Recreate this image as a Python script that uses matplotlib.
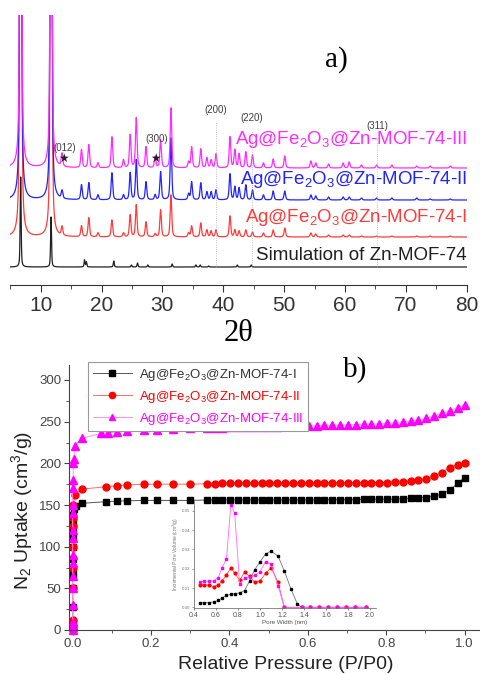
import numpy as np
import matplotlib
matplotlib.use('Agg')
import matplotlib.pyplot as plt
from matplotlib.ticker import MultipleLocator

plt.rcParams['font.family'] = ['Liberation Sans', 'DejaVu Sans']
plt.rcParams['mathtext.fontset'] = 'custom'
plt.rcParams['mathtext.rm'] = 'Liberation Sans'
plt.rcParams['mathtext.default'] = 'regular'

# ---- a) XRD peaks (2theta, height above own baseline) ----
xrd_pos = [6.7, 11.7, 13.5, 16.7, 17.9, 19.4, 21.7, 23.6, 24.7, 25.7, 27.3, 28.8,
           29.7, 31.4, 34.3, 34.8, 36.3, 37.3, 38.0, 38.8, 41.1, 41.9, 42.6, 43.7,
           44.8, 46.6, 48.2, 50.1, 54.4, 55.2, 57.3, 59.7, 60.7, 62.7, 65.2, 67.7,
           71.8, 74.0, 77.3]
xrd_III = [700, 600, 13, 18, 23, 5, 31, 8, 33, 50, 21, 11, 28, 60, 6, 21, 19, 10, 8,
           14, 31, 18, 14, 16, 13, 5, 9, 12, 7, 5, 4, 5, 6, 3, 3, 3, 2, 2, 2]
xrd_II = [700, 600, 8, 15, 17, 5, 27, 5, 27, 40, 18, 5, 28, 62, 6, 18, 17, 8, 8, 10,
          26, 13, 12, 15, 10, 5, 9, 9, 5, 4, 3, 3, 3, 2, 2, 2, 2, 1, 1]
xrd_I = [700, 600, 9, 11, 19, 4, 17, 4, 22, 32, 15, 3, 27, 42, 4, 11, 14, 7, 6, 7,
         21, 7, 6, 7, 5, 4, 7, 9, 4, 3, 2, 2, 2, 1, 1, 1, 1, 1, 1]
sim_pos = [6.7, 11.7, 17.2, 17.5, 22.0, 24.9, 25.9, 27.6, 31.6, 35.5, 36.2, 37.6,
           42.3, 44.6]
sim_h = [90, 50, 7, 5, 6, 2, 4, 2, 3, 2, 2, 1, 2, 2]
offsets = {'sim': 18, 'I': 48, 'II': 85, 'III': 117}
hkl_labels = ['(012)', '(300)', '(200)', '(220)', '(311)']
hkl_pos = [14.0, 29.0, 38.8, 44.7, 65.3]
hkl_y = [137, 146, 175, 167, 159]
star_pos = [13.7, 28.9]
ag_lines = [38.8, 44.7, 65.3]
ag_tops = [163, 155, 148]

# ---- b) N2 isotherms ----
p_hi = [0.342, 0.362, 0.382, 0.402, 0.422, 0.442, 0.462, 0.482, 0.502, 0.522, 0.542,
        0.562, 0.582, 0.602, 0.622, 0.642, 0.662, 0.682, 0.702, 0.722, 0.742, 0.762,
        0.782, 0.802, 0.822, 0.842, 0.862, 0.882, 0.902, 0.922, 0.942, 0.962, 0.982, 1.0]
p_black = [0, 0, 0, 0, 0, 0, 0, 0, 0, 0, 0.001, 0.002, 0.004, 0.008,
           0.023, 0.085, 0.112, 0.138, 0.182, 0.214, 0.255, 0.299] + p_hi
v_black = [0, 3, 8, 28, 50, 67, 85, 100, 112, 122, 130, 138, 145, 149,
           152, 154, 154.5, 155, 155.5, 155.5, 155.5, 155.5,
           156, 156, 156, 156, 156, 156, 156, 156, 156, 156, 156, 156, 156, 156, 156,
           156.5, 156.5, 156.5, 156.5, 156.5, 157, 157, 157, 157, 157, 157.5, 158, 158,
           159, 161, 163, 168, 176, 183]
p_red = [0, 0, 0, 0, 0, 0, 0, 0.001, 0.002, 0.005,
         0.023, 0.085, 0.112, 0.138, 0.182, 0.214, 0.255, 0.299] + p_hi
v_red = [0, 5, 12, 50, 75, 100, 125, 135, 150, 162,
         169, 172, 173, 174, 175, 175, 175, 175,
         175.5, 175.5, 176, 176, 176, 176, 176, 176, 176, 176, 176, 176, 176, 176, 176,
         176.5, 176.5, 176.5, 176.5, 176.5, 177, 177, 177, 177, 177.5, 178, 178.5, 179.5,
         181, 185, 189, 195, 198.5, 200.5]
p_mag = [0, 0, 0, 0, 0, 0, 0, 0, 0, 0, 0, 0, 0, 0.001, 0.002, 0.003, 0.005,
         0.023, 0.073, 0.09, 0.113, 0.138, 0.182, 0.214, 0.255, 0.299] + p_hi
v_mag = [0, 5, 10, 30, 50, 65, 80, 90, 110, 120, 140, 150, 170, 180, 200, 205, 221,
         230, 236, 236.7, 237.5, 238.5, 240, 240.5, 241, 242,
         243, 243, 243, 243.5, 243.5, 243.5, 243.5, 244, 244, 244, 244.5, 244.5, 245,
         245, 245, 245.5, 245.5, 246, 246, 246.5, 247, 247, 247.5, 248, 248.5, 249.5,
         250.5, 252, 254, 257, 260, 263, 267, 270]

# ---- inset: pore size distribution ----
w_lo = [0.45, 0.495, 0.54, 0.58, 0.62, 0.655, 0.695, 0.735, 0.77, 0.815, 0.86,
        0.905, 0.95, 1.0, 1.05, 1.1, 1.165, 1.22]
w_zero = [1.38, 1.45, 1.54, 1.62, 1.70, 1.78, 1.86, 1.96]
psd_black = [0.0024, 0.0024, 0.0025, 0.0028, 0.0036, 0.0048, 0.0062, 0.0067, 0.007,
             0.0075, 0.0087, 0.0136, 0.0193, 0.0236, 0.0275, 0.0292, 0.0264, 0.019]
w_black_tail = [1.28, 1.34]
psd_black_tail = [0.0097, 0.0017]
psd_red = [0.0116, 0.0116, 0.0115, 0.0107, 0.0116, 0.0136, 0.0167, 0.0205, 0.0176,
           0.0141, 0.0181, 0.016, 0.013, 0.0136, 0.0176, 0.0205, 0.013, 0.0]
psd_mag = [0.0133, 0.0134, 0.0135, 0.0137, 0.0153, 0.0205, 0.025, 0.053, 0.0487,
           0.0119, 0.0153, 0.0157, 0.0165, 0.0184, 0.0236, 0.0223, 0.0112, 0.0]

names = ['Ag@Fe$_2$O$_3$@Zn-MOF-74-I', 'Ag@Fe$_2$O$_3$@Zn-MOF-74-II',
         'Ag@Fe$_2$O$_3$@Zn-MOF-74-III']


def pattern(x, pos, heights, fwhm):
    y = np.zeros_like(x)
    hw = fwhm / 2
    for p, h in zip(pos, heights):
        lor = hw ** 2 / ((x - p) ** 2 + hw ** 2)
        gau = np.exp(-np.log(2) * ((x - p) / hw) ** 2)
        y += h * (0.5 * lor + 0.5 * gau)
    return y


W, H = 481, 674
fig = plt.figure(figsize=(W / 100, H / 100), dpi=100)

# ---------------- panel a ----------------
ax1 = fig.add_axes([10.3 / W, 1 - 285 / H, 456.4 / W, 270 / H])
x = np.linspace(5, 80, 6000)
ax1.plot(x, offsets['sim'] + pattern(x, sim_pos, sim_h, 0.18), color='#202020', lw=0.9)
ax1.plot(x, offsets['I'] + pattern(x, xrd_pos, xrd_I, 0.3), color='#ff3b3b', lw=0.9)
ax1.plot(x, offsets['II'] + pattern(x, xrd_pos, xrd_II, 0.3), color='#2323ff', lw=0.9)
ax1.plot(x, offsets['III'] + pattern(x, xrd_pos, xrd_III, 0.3), color='#ff2cff', lw=0.9)

for xl, yt in zip(ag_lines, ag_tops):
    ax1.plot([xl, xl], [offsets['sim'], yt], color='#b0b0b0', lw=0.6, ls=':')
for lab, xp, yp in zip(hkl_labels, hkl_pos, hkl_y):
    ax1.text(xp, yp, lab, fontsize=7, color='#404040', ha='center', va='center')
for sp in star_pos:
    ax1.text(sp, 127, '\u2605', fontsize=8.5, color='#222222', ha='center',
             va='center', family='DejaVu Sans')

ax1.text(80, 145, names[2], color='#ff2cff', fontsize=13.5, ha='right', va='center')
ax1.text(80, 106, names[1], color='#2323ff', fontsize=13.5, ha='right', va='center')
ax1.text(80, 67, names[0], color='#ff3b3b', fontsize=13.5, ha='right', va='center')
ax1.text(80, 29, 'Simulation of Zn-MOF-74', color='#202020', fontsize=13.5,
         ha='right', va='center')
ax1.text(58.6, 225, 'a)', fontsize=21, family='Liberation Serif', ha='center',
         va='center')

ax1.set_xlim(5, 80)
ax1.set_ylim(0, 270)
for s in ['left', 'right', 'top']:
    ax1.spines[s].set_visible(False)
ax1.spines['bottom'].set_color('#333333')
ax1.set_yticks([])
ax1.xaxis.set_major_locator(MultipleLocator(10))
ax1.xaxis.set_minor_locator(MultipleLocator(5))
ax1.tick_params(axis='x', which='major', direction='out', length=5, labelsize=15,
                colors='#333333', pad=3)
ax1.tick_params(axis='x', which='minor', direction='out', length=3, colors='#333333')
ax1.set_xlabel('2\u03b8', fontsize=22, family='Liberation Serif', labelpad=3)

# ---------------- panel b ----------------
ax2 = fig.add_axes([69 / W, 1 - 630 / H, 412 / W, 265 / H])
ax2.plot(p_black, v_black, color='#555555', lw=0.7, marker='s', ms=4.3,
         mfc='black', mec='black', clip_on=False, label=names[0])
ax2.plot(p_red, v_red, color='#ff6a6a', lw=0.7, marker='o', ms=5,
         mfc='#ff0000', mec='#ff0000', clip_on=False, label=names[1])
ax2.plot(p_mag, v_mag, color='#ff8cff', lw=0.7, marker='^', ms=5.2,
         mfc='#ff00ff', mec='#ff00ff', clip_on=False, label=names[2])

ax2.set_xlim(-0.0094, 1.0416)
ax2.set_ylim(0, 318)
for s in ['right', 'top']:
    ax2.spines[s].set_visible(False)
for s in ['left', 'bottom']:
    ax2.spines[s].set_color('#444444')
ax2.xaxis.set_minor_locator(MultipleLocator(0.1))
ax2.yaxis.set_major_locator(MultipleLocator(50))
ax2.yaxis.set_minor_locator(MultipleLocator(25))
ax2.set_xticks([0, 0.2, 0.4, 0.6, 0.8, 1.0])
ax2.set_xticklabels(['0.0', '0.2', '0.4', '0.6', '0.8', '1.0'])
ax2.tick_params(which='major', direction='out', length=3.5, labelsize=9.5,
                colors='#444444', pad=2)
ax2.tick_params(which='minor', direction='out', length=2, colors='#444444')
ax2.set_xlabel('Relative Pressure (P/P0)', fontsize=14, color='#222222',
               va='center')
ax2.xaxis.set_label_coords(0.527, -0.132)
ax2.set_ylabel('N$_2$ Uptake (cm$^3$/g)', fontsize=14, color='#222222',
               va='center')
ax2.yaxis.set_label_coords(-0.114, 0.45)
ax2.text(0.72, 312, 'b)', fontsize=21, family='Liberation Serif', ha='center',
         va='center')

leg = ax2.legend(loc='upper left', bbox_to_anchor=(0.03, 1.035), fontsize=9.5,
                 frameon=True, fancybox=False, edgecolor='#999999', framealpha=1,
                 handlelength=3.0, handletextpad=0.5, borderpad=0.35,
                 labelspacing=0.45, markerscale=0.9)
leg.get_frame().set_linewidth(0.8)
for txt, c in zip(leg.get_texts(), ['#333333', '#ff0000', '#ff00ff']):
    txt.set_color(c)

# ---------------- inset ----------------
ins = fig.add_axes([194 / W, 1 - 608.3 / H, 181.5 / W, 108.2 / H])
ins.patch.set_alpha(0)
ins.plot(w_lo + w_black_tail + w_zero, psd_black + psd_black_tail + [0] * len(w_zero),
         color='#777777', lw=0.6, marker='s', ms=1.8, mfc='black', mec='black')
ins.plot(w_lo + w_zero, psd_red + [0] * len(w_zero), color='#ff5050', lw=0.6,
         marker='o', ms=2, mfc='#ff0000', mec='#ff0000')
ins.plot(w_lo + w_zero, psd_mag + [0] * len(w_zero), color='#ff66ff', lw=0.6,
         marker='s', ms=1.8, mfc='#ff00ff', mec='#ff00ff')
ins.set_xlim(0.4, 2.05)
ins.set_ylim(-0.0005, 0.0555)
for s in ['right', 'top']:
    ins.spines[s].set_visible(False)
for s in ['left', 'bottom']:
    ins.spines[s].set_color('#777777')
    ins.spines[s].set_linewidth(0.6)
ins.set_xticks([0.4, 0.6, 0.8, 1.0, 1.2, 1.4, 1.6, 1.8, 2.0])
ins.set_xticklabels(['0.4', '0.6', '0.8', '1.0', '1.2', '1.4', '1.6', '1.8', '2.0'])
ins.set_yticks([0, 0.01, 0.02, 0.03, 0.04, 0.05])
ins.set_yticklabels(['0.00', '0.01', '0.02', '0.03', '0.04', '0.05'])
ins.tick_params(axis='x', direction='out', length=1.5, width=0.5, labelsize=5,
                colors='#555555', pad=1)
ins.tick_params(axis='y', direction='out', length=1.5, width=0.5, labelsize=3.2,
                colors='#777777', pad=1)
ins.set_xlabel('Pore Width (nm)', fontsize=4.5, color='#555555', labelpad=1)
ins.set_ylabel('Incremental Pore Volume (cm$^3$/g)', fontsize=3.5, color='#777777',
               labelpad=1)

fig.savefig('out.png', dpi=100)
